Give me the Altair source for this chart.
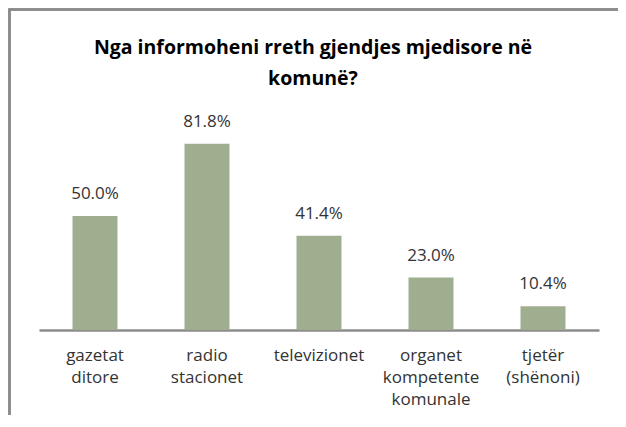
import altair as alt
import pandas as pd

categories = ["gazetat ditore", "radio stacionet", "televizionet", "organet kompetente komunale", "tjetër (shënoni)"]
label_lines = [["gazetat", "ditore"], ["radio", "stacionet"], ["televizionet"], ["organet", "kompetente", "komunale"], ["tjetër", "(shënoni)"]]
values = [50.0, 81.8, 41.4, 23.0, 10.4]
value_labels = ["50.0%", "81.8%", "41.4%", "23.0%", "10.4%"]
title_lines = ["Nga informoheni rreth gjendjes mjedisore në", "komunë?"]

df = pd.DataFrame({"cat": categories, "val": values, "lbl": value_labels})

FONT = "Open Sans"
TXT = "#333333"
label_map = {c: l for c, l in zip(categories, label_lines)}
expr = "{" + ",".join('"%s": [%s]' % (c, ",".join('"%s"' % s for s in l)) for c, l in label_map.items()) + "}[datum.label]"

W, H = 560, 205
PL, PT, PR, PB = 31, 117, 19, 85

x = alt.X("cat:N", sort=categories, title=None,
          scale=alt.Scale(paddingInner=0.6, paddingOuter=0.3),
          axis=alt.Axis(labelAngle=0, labelExpr=expr, labelFontSize=17, labelColor=TXT,
                        labelFont=FONT, labelPadding=17, labelLineHeight=22, ticks=False,
                        domainColor="#8c8c8c", domainWidth=2.5, labelBaseline="top"))
y = alt.Y("val:Q", scale=alt.Scale(domain=[0, 90]), axis=None)

bars = alt.Chart(df).mark_bar(color="#a0ae90", size=45).encode(x=x, y=y)
text = alt.Chart(df).mark_text(baseline="alphabetic", dy=-17, fontSize=17, font=FONT, color=TXT).encode(
    x=alt.X("cat:N", sort=categories), y="val:Q", text="lbl:N")

frame_left = alt.Chart(df).mark_rule(color="#8c8c8c", strokeWidth=2).encode(
    x=alt.value(-PL + 1.5), y=alt.value(-PT + 1.5), y2=alt.value(H + PB))
frame_top = alt.Chart(df).mark_rule(color="#8c8c8c", strokeWidth=2).encode(
    y=alt.value(-PT + 1.5), x=alt.value(-PL + 0.5), x2=alt.value(W + PR))

chart = alt.layer(frame_left, frame_top, bars, text).properties(
    width=W, height=H,
    padding={"left": PL, "top": PT, "right": PR, "bottom": PB},
    autosize=alt.AutoSizeParams(type="none"),
    title=alt.Title(title_lines, font=FONT, fontSize=19.5, fontWeight="bold", color="#000000",
                    lineHeight=31, offset=-81, dx=-6, anchor="middle"),
).configure_view(stroke=None)

chart.save("out.html", embed_options={"renderer": "svg", "actions": False})
